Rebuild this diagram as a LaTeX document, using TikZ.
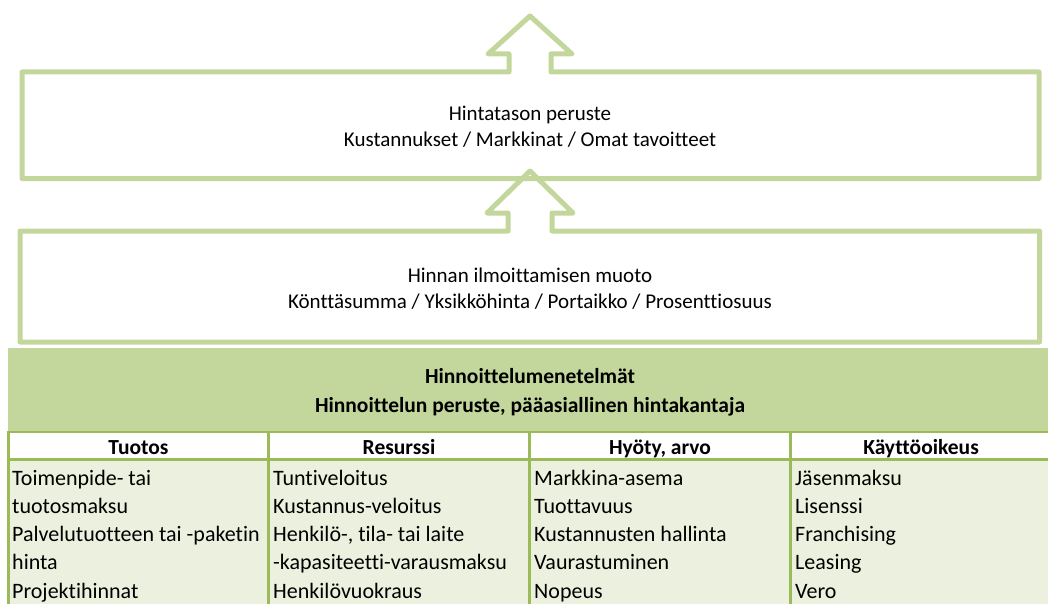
\documentclass[tikz,border=0pt]{standalone}
\usepackage{fontspec}
\setmainfont{Carlito}[RawFeature={-liga;-clig}]
\definecolor{outline}{HTML}{C3D69B}
\definecolor{bandfill}{HTML}{C3D69B}
\definecolor{gridline}{HTML}{9BBB59}
\definecolor{cellfill}{HTML}{EBF1DE}
\begin{document}
\begin{tikzpicture}[x=1pt,y=-1pt,
  arrowbox/.style={draw=outline, line width=5pt, line join=round},
  boxtext/.style={font=\fontsize{21}{25}\selectfont, inner sep=0pt, anchor=base},
  headtext/.style={font=\bfseries\fontsize{21.5}{28}\selectfont, inner sep=0pt, anchor=base},
  celltext/.style={font=\fontsize{22}{28}\selectfont, inner sep=0pt, anchor=base west},
  grid/.style={draw=gridline, line width=2.4pt}]
\useasboundingbox (0,0) rectangle (1048,604);
\clip (0,0) rectangle (1048,604);

% upper box with the arrow rising out of it
\draw[arrowbox] (22,72) -- (509,72) -- (509,54) -- (488,54) -- (530,16)
  -- (572,54) -- (551,54) -- (551,72) -- (1039,72) -- (1039,178.5)
  -- (22,178.5) -- cycle;
\node[boxtext] (lvl) at (530,121) {Hintatason peruste};
\node[boxtext] (lvlopts) at (530,146.5) {Kustannukset / Markkinat / Omat tavoitteet};

% lower box with its arrow
\draw[arrowbox] (20,231) -- (508,231) -- (508,213) -- (487,213) -- (530,171)
  -- (573,213) -- (552,213) -- (552,231) -- (1039.5,231) -- (1039.5,342)
  -- (20,342) -- cycle;
\node[boxtext] (form) at (530,282.5) {Hinnan ilmoittamisen muoto};
\node[boxtext] (formopts) at (530,308) {Könttäsumma / Yksikköhinta / Portaikko / Prosenttiosuus};

% pricing methods table
\fill[bandfill] (8,348) rectangle (1056,431.7);
\fill[white] (8,431.7) rectangle (1056,459.5);
\fill[cellfill] (8,459.5) rectangle (1056,604);
\draw[grid] (7.3,431.7) -- (1056,431.7);
\draw[grid] (7.3,459.5) -- (1056,459.5);
\foreach \cx in {8.5,268.5,529.5,790.5}
  \draw[grid] (\cx,431.7) -- (\cx,606);

\node[headtext] (title) at (530,383.3) {Hinnoittelumenetelmät};
\node[headtext] (subtitle) at (530,412.7) {Hinnoittelun peruste, pääasiallinen hintakantaja};

\node[headtext] (h1) at (138.5,454.3) {Tuotos};
\node[headtext] (h2) at (399,454.3) {Resurssi};
\node[headtext] (h3) at (660,454.3) {Hyöty, arvo};
\node[headtext] (h4) at (921,454.3) {Käyttöoikeus};

\foreach \txt [count=\r] in {Toimenpide- tai, tuotosmaksu, Palvelutuotteen tai -paketin, hinta, Projektihinnat}
  \node[celltext] (a\r) at (12,{485+28.33*(\r-1)}) {\txt};
\foreach \txt [count=\r] in {Tuntiveloitus, Kustannus-veloitus, {Henkilö-, tila- tai laite}, -kapasiteetti-varausmaksu, Henkilövuokraus}
  \node[celltext] (b\r) at (273,{485+28.33*(\r-1)}) {\txt};
\foreach \txt [count=\r] in {Markkina-asema, Tuottavuus, Kustannusten hallinta, Vaurastuminen, Nopeus}
  \node[celltext] (c\r) at (534,{485+28.33*(\r-1)}) {\txt};
\foreach \txt [count=\r] in {Jäsenmaksu, Lisenssi, Franchising, Leasing, Vero}
  \node[celltext] (d\r) at (795,{485+28.33*(\r-1)}) {\txt};
\end{tikzpicture}
\end{document}
